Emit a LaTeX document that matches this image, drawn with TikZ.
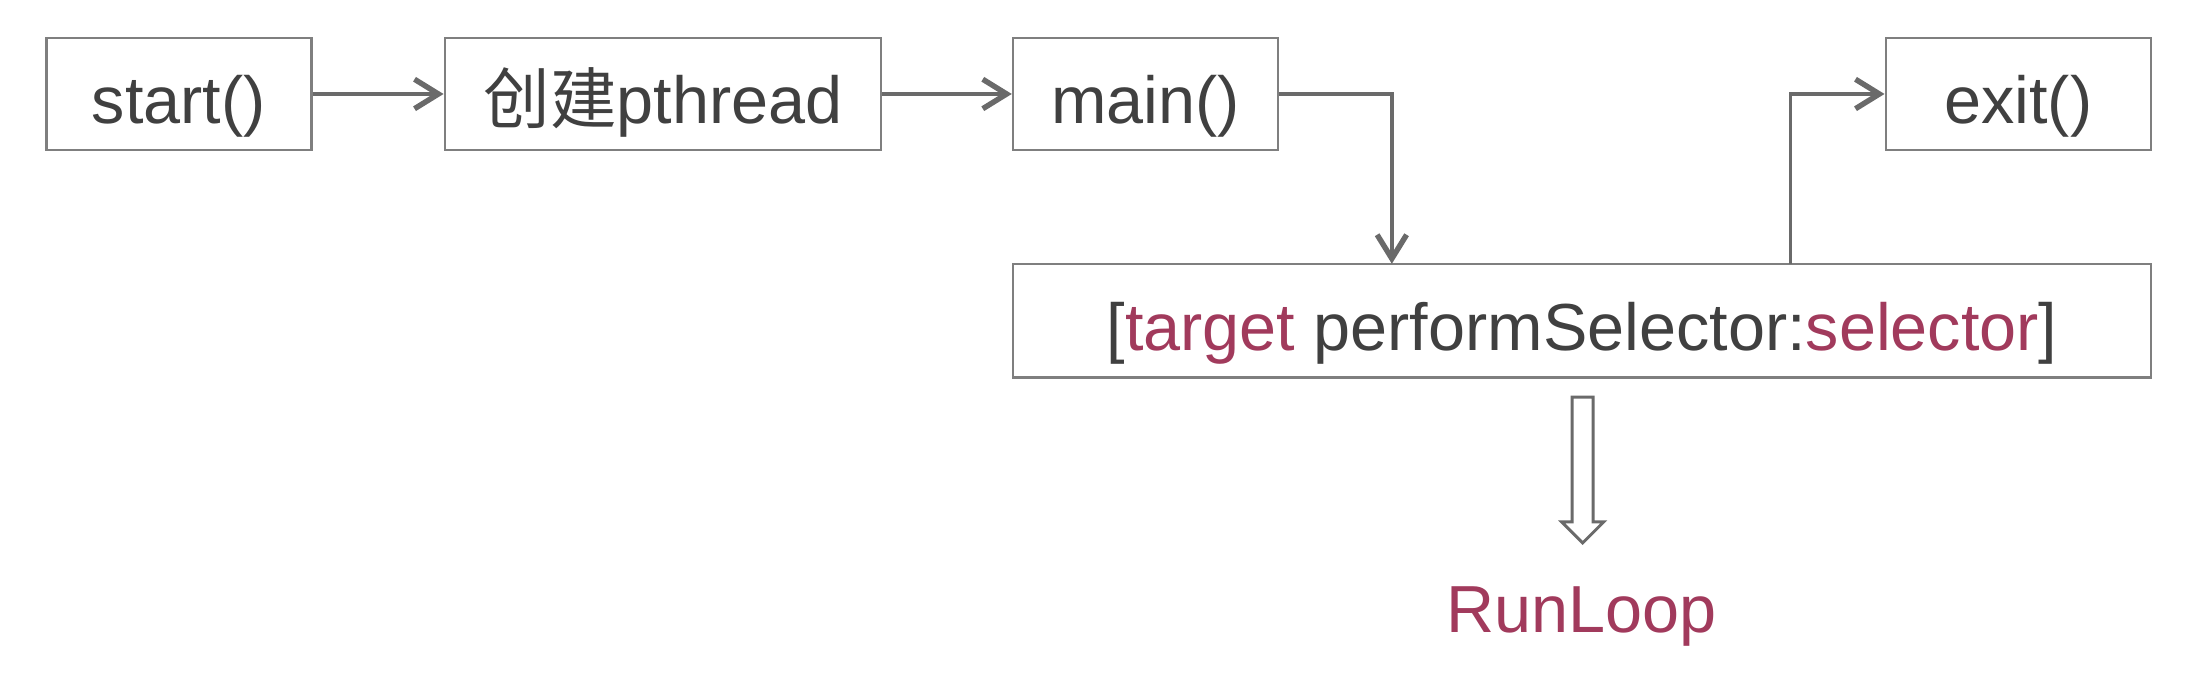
\documentclass[tikz,border=0pt]{standalone}
\usepackage{fontspec}
\setmainfont{Liberation Sans}
\newfontfamily\cjk{Noto Sans CJK SC}
\usetikzlibrary{arrows.meta}
\definecolor{txtgray}{HTML}{404040}
\definecolor{boxgray}{HTML}{7F7F7F}
\definecolor{linegray}{HTML}{6A6A6A}
\definecolor{hl}{HTML}{A13A5C}
\begin{document}
\begin{tikzpicture}[
    box/.style={draw=boxgray, line width=0.5pt, minimum height=0.8cm, inner sep=0pt,
      text height=0.5cm, text depth=0.08cm,
      text=txtgray, font=\fontsize{13.5}{16}\selectfont},
    flow/.style={draw=linegray, line width=0.7pt,
      -{Straight Barb[length=1.7mm, width=2.1mm, line width=1.1pt]}},
    hollow/.style={draw=linegray, line width=0.6pt, fill=white, line join=miter}
  ]
    \useasboundingbox (0,0) rectangle (15.68,-4.89);
    \node[box, minimum width=1.89cm] (start) at (1.275,-0.67) {start()};
    \node[box, minimum width=3.11cm] (create) at (4.725,-0.67) {{\cjk 创建}pthread};
    \node[box, minimum width=1.89cm] (main) at (8.165,-0.67) {main()};
    \node[box, minimum width=1.89cm] (exit) at (14.385,-0.67) {exit()};
    \node[box, minimum width=8.11cm, minimum height=0.81cm] (sel) at (11.275,-2.285)
      {[\textcolor{hl}{target} performSelector:\textcolor{hl}{selector}]};
    \node[anchor=base, text=hl, font=\fontsize{13.5}{16}\selectfont] (runloop) at (11.27,-4.51) {RunLoop};
    \coordinate (selin) at (9.92,-1.88);
    \coordinate (selout) at (12.76,-1.88);
    \draw[flow] (start.east) -- (create.west);
    \draw[flow] (create.east) -- (main.west);
    \draw[flow] (main.east) -| (selin);
    \draw[flow] (selout) |- (exit.west);
    \draw[hollow] (11.205,-2.83) -- (11.355,-2.83) -- (11.355,-3.72) -- (11.43,-3.72)
      -- (11.28,-3.87) -- (11.13,-3.72) -- (11.205,-3.72) -- cycle;
  \end{tikzpicture}
\end{document}
